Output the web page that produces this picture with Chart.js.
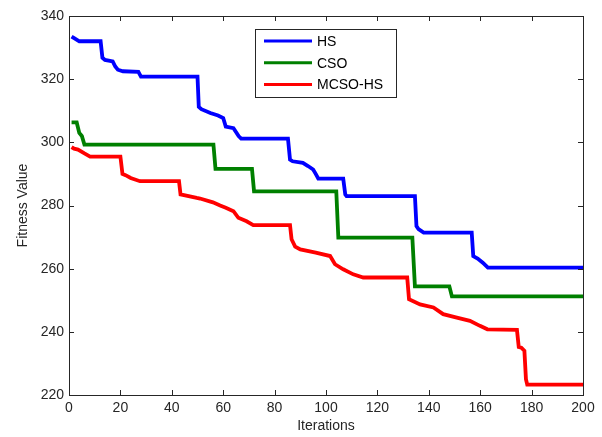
<!DOCTYPE html>
<html>
<head>
<meta charset="utf-8">
<script src="https://cdn.jsdelivr.net/npm/chart.js@4.4.1/dist/chart.umd.min.js"></script>
<style>
html,body{margin:0;padding:0;background:#fff;}
#wrap{width:602px;height:437px;position:relative;}
</style>
</head>
<body>
<div id="wrap"><canvas id="c" width="602" height="437"></canvas></div>
<script>
// Series labels
const seriesLabels = ['HS', 'CSO', 'MCSO-HS'];
// Axis ticks
const xTicks = [0, 20, 40, 60, 80, 100, 120, 140, 160, 180, 200];
const yTicks = [220, 240, 260, 280, 300, 320, 340];

// HS (iteration, fitness)
const hsX = [1, 2, 4, 12.3, 13, 14, 17, 18, 19, 21, 27, 28, 50, 50.5, 51.5, 55, 58, 60, 61, 64, 66, 67, 85.2, 86, 87, 91, 93, 95, 96, 97, 106.7, 107.5, 108, 134.6, 135.2, 136, 138, 156.7, 157.3, 159, 161, 163, 200];
const hsY = [333.5, 333, 332, 332, 326.8, 326.1, 325.6, 324, 323, 322.5, 322.3, 320.8, 320.8, 311.2, 310.5, 309.3, 308.5, 307.7, 305, 304.5, 302, 301.2, 301.2, 294.5, 294, 293.5, 292.5, 291.4, 290, 288.5, 288.5, 283.5, 283, 283, 273.5, 272.5, 271.4, 271.4, 264, 263.2, 261.9, 260.3, 260.3];

// CSO
const csoX = [1, 3, 4, 5, 6, 56.2, 57, 71.2, 72, 104, 104.8, 133.6, 134.6, 148, 149, 200];
const csoY = [306.3, 306.3, 303, 302, 299.3, 299.3, 291.6, 291.6, 284.5, 284.5, 269.8, 269.8, 254.4, 254.4, 251.2, 251.2];

// MCSO-HS
const mcsoX = [1, 2, 3.5, 6, 8.2, 20, 20.8, 22, 24, 27.6, 42.8, 43.4, 49.7, 51, 56, 58.8, 61, 64, 65.9, 69.1, 71.7, 86, 86.6, 88, 90, 96, 101.6, 103.5, 106.7, 110.6, 114.5, 131.6, 132.3, 136.6, 141.8, 145.6, 150.9, 156, 159.9, 162.8, 174.3, 175, 176, 177.2, 177.8, 178.3, 200];
const mcsoY = [298.5, 298, 297.7, 296.5, 295.5, 295.5, 290, 289.6, 288.7, 287.7, 287.7, 283.5, 282.4, 282.2, 281, 280, 279.3, 278.2, 276.1, 275, 273.8, 273.8, 269.3, 267, 266.1, 265.1, 264, 261.4, 259.8, 258.2, 257.2, 257.2, 250.3, 248.7, 247.7, 245.6, 244.5, 243.5, 241.9, 240.8, 240.6, 235.2, 235, 234, 225, 223.3, 223.3];

const colors = ['#0000ff', '#008000', '#ff0000'];

function pts(xs, ys) { return xs.map((x, i) => ({ x: x, y: ys[i] })); }

const AXIS_COLOR = '#262626';
const FONT = 'Liberation Sans, Arial, sans-serif';

const boxTicksPlugin = {
  id: 'boxTicks',
  afterDatasetsDraw(chart) {
    const { ctx, chartArea: a, scales } = chart;
    ctx.save();
    ctx.strokeStyle = AXIS_COLOR;
    ctx.lineWidth = 1;
    const L = 5;
    ctx.beginPath();
    xTicks.forEach(v => {
      const px = Math.round(scales.x.getPixelForValue(v)) + 0.5;
      ctx.moveTo(px, a.bottom); ctx.lineTo(px, a.bottom - L);
      ctx.moveTo(px, a.top); ctx.lineTo(px, a.top + L);
    });
    yTicks.forEach(v => {
      const py = Math.round(scales.y.getPixelForValue(v)) + 0.5;
      ctx.moveTo(a.left, py); ctx.lineTo(a.left + L, py);
      ctx.moveTo(a.right, py); ctx.lineTo(a.right - L, py);
    });
    ctx.stroke();
    ctx.strokeRect(Math.round(a.left) + 0.5, Math.round(a.top) + 0.5, Math.round(a.right - a.left), Math.round(a.bottom - a.top));
    ctx.restore();

    // legend box
    const lx = a.left + 186, ly = a.top + 13, lw = 141, lh = 68;
    ctx.save();
    ctx.fillStyle = '#fff';
    ctx.fillRect(lx, ly, lw, lh);
    ctx.strokeStyle = AXIS_COLOR;
    ctx.lineWidth = 1;
    ctx.strokeRect(Math.round(lx) + 0.5, Math.round(ly) + 0.5, lw, lh);
    ctx.font = '14px ' + FONT;
    ctx.textBaseline = 'middle';
    ctx.fillStyle = '#000';
    chart.data.datasets.forEach((ds, i) => {
      const yy = ly + 12 + i * 21.8;
      ctx.strokeStyle = ds.borderColor;
      ctx.lineWidth = 3;
      ctx.beginPath();
      ctx.moveTo(lx + 9, yy); ctx.lineTo(lx + 57, yy);
      ctx.stroke();
      ctx.fillText(ds.label, lx + 62, yy + 1);
    });
    ctx.restore();
  }
};

new Chart(document.getElementById('c'), {
  type: 'line',
  data: {
    datasets: [
      { label: seriesLabels[0], data: pts(hsX, hsY), borderColor: colors[0], backgroundColor: colors[0] },
      { label: seriesLabels[1], data: pts(csoX, csoY), borderColor: colors[1], backgroundColor: colors[1] },
      { label: seriesLabels[2], data: pts(mcsoX, mcsoY), borderColor: colors[2], backgroundColor: colors[2] }
    ]
  },
  options: {
    responsive: false,
    animation: false,
    devicePixelRatio: 1,
    elements: {
      line: { borderWidth: 3.8, tension: 0, borderJoinStyle: 'miter' },
      point: { radius: 0 }
    },
    layout: { padding: { left: 0, right: 19, top: 16, bottom: 0 } },
    plugins: { legend: { display: false }, tooltip: { enabled: false } },
    scales: {
      x: {
        type: 'linear',
        min: 0, max: 200,
        afterBuildTicks: s => { s.ticks = xTicks.map(v => ({ value: v })); },
        afterFit: s => { s.height = 42; },
        grid: { display: false, drawTicks: false },
        border: { display: false },
        ticks: { color: AXIS_COLOR, font: { family: FONT, size: 14 }, padding: 5, maxRotation: 0 },
        title: { display: true, text: 'Iterations', color: AXIS_COLOR, font: { family: FONT, size: 14 }, padding: { top: 0, bottom: 2 } }
      },
      y: {
        min: 220, max: 340,
        afterBuildTicks: s => { s.ticks = yTicks.map(v => ({ value: v })); },
        afterFit: s => { s.width = 69; },
        grid: { display: false, drawTicks: false },
        border: { display: false },
        ticks: { color: AXIS_COLOR, font: { family: FONT, size: 14 }, padding: 5 },
        title: { display: true, text: 'Fitness Value', color: AXIS_COLOR, font: { family: FONT, size: 14 }, padding: { top: 15, bottom: 0 } }
      }
    }
  },
  plugins: [boxTicksPlugin]
});
</script>
</body>
</html>
